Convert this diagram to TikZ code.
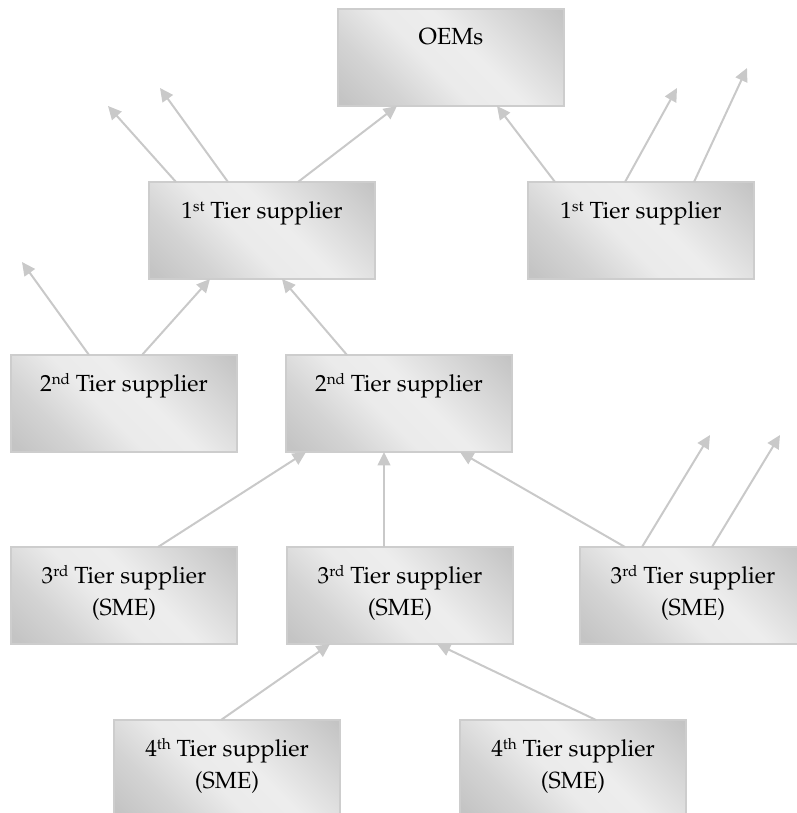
\documentclass[tikz,border=0pt]{standalone}
\usepackage[T1]{fontenc}
\usepackage{mathpazo}
\usetikzlibrary{arrows.meta,calc}

\definecolor{edgegray}{HTML}{CDCDCD}
\definecolor{linkgray}{HTML}{C9C9C9}

% diagonal grey fill: dark corners, light band through the middle
\pgfdeclareverticalshading{tiershade}{100bp}{%
  color(0bp)=(black!23); color(17bp)=(black!23); color(30bp)=(black!17);
  color(44bp)=(black!8); color(56bp)=(black!7); color(70bp)=(black!15);
  color(84bp)=(black!23); color(100bp)=(black!23)}

% ordinal suffix, small and raised
\newcommand{\ordsuf}[1]{\raisebox{5pt}{\fontsize{11.5}{12}\selectfont #1}}

% box text: top-aligned, centred, fixed box size
\newcommand{\tierlabel}[1]{%
  \parbox[c][72.75pt][t]{169.5pt}{\centering\fontsize{17.5}{24}\selectfont
    \rule{0pt}{27pt}#1}}

\tikzset{
  tierbox/.style={draw=edgegray, line width=1.1pt, inner sep=0pt, outer sep=0pt,
    shade, shading=tiershade, shading angle=-45},
  link/.style={draw=linkgray, line width=1.5pt,
    -{Triangle[length=10pt,width=9.5pt]}}
}

\begin{document}
\begin{tikzpicture}[x=0.75pt, y=-0.75pt]
\useasboundingbox (0,0) rectangle (796,813);

% supplier pyramid
\node[tierbox] (oem) at (451,57.5)  {\tierlabel{OEMs}};
\node[tierbox] (t1a) at (262,230.5) {\tierlabel{1\ordsuf{st} Tier supplier}};
\node[tierbox] (t1b) at (641,230.5) {\tierlabel{1\ordsuf{st} Tier supplier}};
\node[tierbox] (t2a) at (124,403.5) {\tierlabel{2\ordsuf{nd} Tier supplier}};
\node[tierbox] (t2b) at (399,403.5) {\tierlabel{2\ordsuf{nd} Tier supplier}};
\node[tierbox] (t3a) at (124,595.5) {\tierlabel{3\ordsuf{rd} Tier supplier\\(SME)}};
\node[tierbox] (t3b) at (400,595.5) {\tierlabel{3\ordsuf{rd} Tier supplier\\(SME)}};
\node[tierbox] (t3c) at (693,595.5) {\tierlabel{3\ordsuf{rd} Tier supplier\\(SME)}};
\node[tierbox] (t4a) at (227,768.5) {\tierlabel{4\ordsuf{th} Tier supplier\\(SME)}};
\node[tierbox] (t4b) at (573,768.5) {\tierlabel{4\ordsuf{th} Tier supplier\\(SME)}};

% open ends of the outgoing arrows
\coordinate (f1) at (108,106);
\coordinate (f2) at (160,88);
\coordinate (f3) at (677,88);
\coordinate (f4) at (747,68);
\coordinate (f5) at (22,262);
\coordinate (f6) at (710,435);
\coordinate (f7) at (780,435);

% 1st tier
\draw[link] ($(t1a.north west)+(27,0)$)  -- (f1);
\draw[link] ($(t1a.north west)+(79,0)$)  -- (f2);
\draw[link] ($(t1a.north west)+(149,0)$) -- ($(oem.south west)+(59,0)$);
\draw[link] ($(t1b.north west)+(27,0)$)  -- ($(oem.south west)+(159,0)$);
\draw[link] ($(t1b.north west)+(97,0)$)  -- (f3);
\draw[link] ($(t1b.north west)+(166,0)$) -- (f4);

% 2nd tier
\draw[link] ($(t2a.north west)+(78,0)$)  -- (f5);
\draw[link] ($(t2a.north west)+(131,0)$) -- ($(t1a.south west)+(61,0)$);
\draw[link] ($(t2b.north west)+(61,0)$)  -- ($(t1a.south west)+(133,0)$);

% 3rd tier
\draw[link] ($(t3a.north west)+(147,0)$) -- ($(t2b.south west)+(20,0)$);
\draw[link] ($(t3b.north west)+(97,0)$)  -- ($(t2b.south west)+(98,0)$);
\draw[link] ($(t3c.north west)+(45,0)$)  -- ($(t2b.south west)+(174,0)$);
\draw[link] ($(t3c.north west)+(62,0)$)  -- (f6);
\draw[link] ($(t3c.north west)+(132,0)$) -- (f7);

% 4th tier
\draw[link] ($(t4a.north west)+(107,0)$) -- ($(t3b.south west)+(43,0)$);
\draw[link] ($(t4b.north west)+(136,0)$) -- ($(t3b.south west)+(150,0)$);
\end{tikzpicture}
\end{document}
